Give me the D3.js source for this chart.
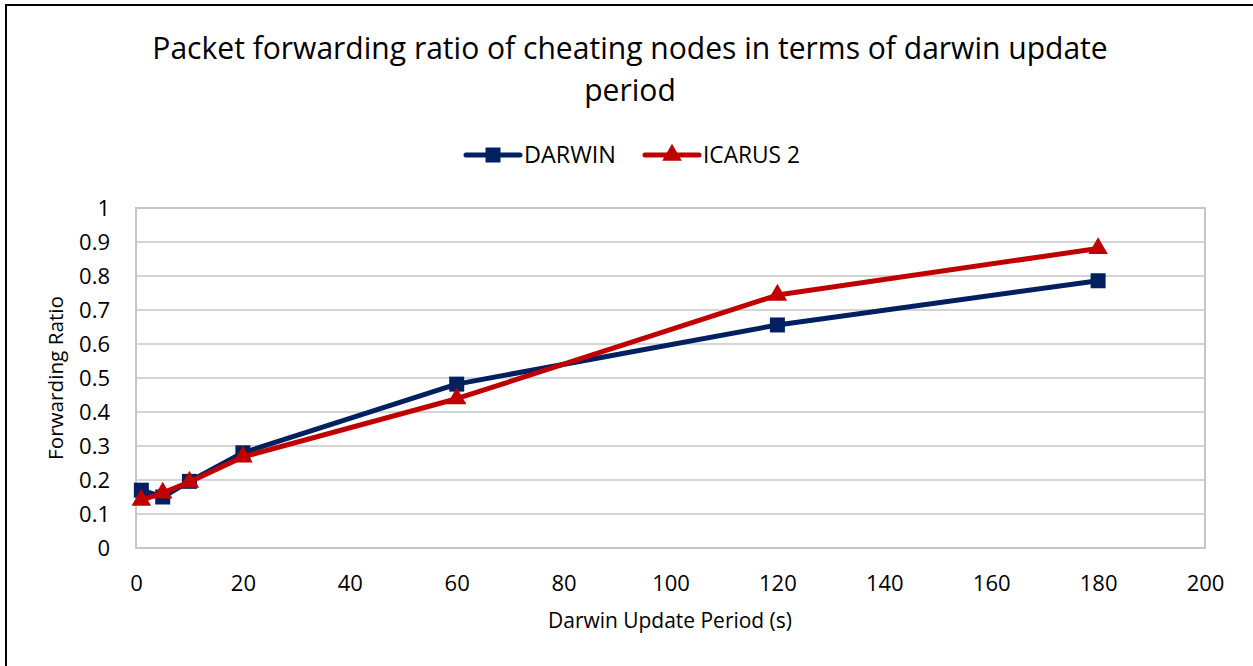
<!DOCTYPE html>
<html>
<head>
<meta charset="utf-8">
<script src="https://cdn.jsdelivr.net/npm/d3@7"></script>
<style>
  body { margin: 0; background: #fff; }
  text { font-family: "Open Sans", "Liberation Sans", sans-serif; fill: #000; }
</style>
</head>
<body>
<div id="content"></div>
<script>
// data
var periods = [1, 5, 10, 20, 60, 120, 180];
var darwin = [0.170, 0.150, 0.196, 0.280, 0.482, 0.656, 0.786];
var icarus = [0.141, 0.162, 0.194, 0.268, 0.439, 0.744, 0.881];
var seriesNames = ["DARWIN", "ICARUS 2"];
var xTicks = [0, 20, 40, 60, 80, 100, 120, 140, 160, 180, 200];
var yTicks = [0, 0.1, 0.2, 0.3, 0.4, 0.5, 0.6, 0.7, 0.8, 0.9, 1];

var W = 1253, H = 666;
var navy = "#002060", red = "#C00000", grid = "#C6C6C6";

var svg = d3.select("#content").append("svg").attr("width", W).attr("height", H);

// outer chart border (runs off the right / bottom edge)
svg.append("rect").attr("x", 6).attr("y", 5).attr("width", W + 10).attr("height", H + 10)
  .attr("fill", "#fff").attr("stroke", "#000").attr("stroke-width", 2);

var x = d3.scaleLinear().domain([0, 200]).range([136, 1205]);
var y = d3.scaleLinear().domain([0, 1]).range([548, 208]);

// helper: fit a text to a wanted width by tuning font size
function fit(t, width) {
  var fs = parseFloat(t.style("font-size"));
  var w = t.node().getComputedTextLength();
  t.style("font-size", (fs * width / w) + "px");
}

// title
var t1 = svg.append("text").attr("x", 630).attr("y", 59).attr("text-anchor", "middle")
  .style("font-size", "28px").text("Packet forwarding ratio of cheating nodes in terms of darwin update");
fit(t1, 956);
svg.append("text").attr("x", 630).attr("y", 101).attr("text-anchor", "middle")
  .style("font-size", t1.style("font-size")).text("period");

// grid
var g = svg.append("g");
g.selectAll("line.h").data(yTicks).enter().append("line")
  .attr("x1", x(0)).attr("x2", x(200))
  .attr("y1", function(d) { return y(d); }).attr("y2", function(d) { return y(d); })
  .attr("stroke", grid).attr("stroke-width", 1.5);
g.append("rect").attr("x", x(0)).attr("y", y(1)).attr("width", x(200) - x(0)).attr("height", y(0) - y(1))
  .attr("fill", "none").attr("stroke", grid).attr("stroke-width", 2);

// axes via d3 axis generators, domain and ticks hidden
var xAxis = svg.append("g").attr("transform", "translate(0," + y(0) + ")")
  .call(d3.axisBottom(x).tickValues(xTicks).tickSize(0).tickPadding(43).tickFormat(d3.format("d")));
var yAxis = svg.append("g").attr("transform", "translate(" + x(0) + ",0)")
  .call(d3.axisLeft(y).tickValues(yTicks).tickSize(0).tickPadding(26).tickFormat(function(d) { return d === 0 || d === 1 ? d : d3.format(".1f")(d); }));
[xAxis, yAxis].forEach(function(a) {
  a.select(".domain").remove();
  a.selectAll("text").style("font-size", "22px").attr("fill", "#000")
    .style("font-family", "'Open Sans', sans-serif");
});
xAxis.selectAll("text").attr("dy", "0");
yAxis.selectAll("text").attr("dy", "0.36em");

// axis titles
var xt = svg.append("text").attr("x", 670).attr("y", 628).attr("text-anchor", "middle")
  .style("font-size", "17px").text("Darwin Update Period (s)");
fit(xt, 244);
var yt = svg.append("text").attr("transform", "translate(63,378) rotate(-90)").attr("text-anchor", "middle")
  .style("font-size", "17px").text("Forwarding Ratio");
fit(yt, 164);

// series
var line = d3.line().x(function(d) { return x(d[0]); }).y(function(d) { return y(d[1]); });
var dDarwin = d3.zip(periods, darwin), dIcarus = d3.zip(periods, icarus);
var sq = d3.symbol().type(d3.symbolSquare).size(225);
var tri = d3.symbol().type(d3.symbolTriangle).size(165);

svg.append("path").datum(dDarwin).attr("d", line).attr("fill", "none")
  .attr("stroke", navy).attr("stroke-width", 5).attr("stroke-linejoin", "round");
svg.selectAll("path.sq").data(dDarwin).enter().append("path").attr("class", "sq")
  .attr("d", sq).attr("fill", navy)
  .attr("transform", function(d) { return "translate(" + x(d[0]) + "," + y(d[1]) + ")"; });

svg.append("path").datum(dIcarus).attr("d", line).attr("fill", "none")
  .attr("stroke", red).attr("stroke-width", 5).attr("stroke-linejoin", "round");
svg.selectAll("path.tri").data(dIcarus).enter().append("path").attr("class", "tri")
  .attr("d", tri).attr("fill", red)
  .attr("transform", function(d) { return "translate(" + x(d[0]) + "," + y(d[1]) + ")"; });

// legend
var legX = [466, 645];
var leg = svg.selectAll("g.leg").data(seriesNames).enter().append("g")
  .attr("transform", function(d, i) { return "translate(" + legX[i] + ",155)"; });
leg.append("line").attr("x1", 0).attr("x2", 54).attr("stroke-width", 5).attr("stroke-linecap", "round")
  .attr("stroke", function(d, i) { return i ? red : navy; });
leg.append("path").attr("transform", "translate(27,0)")
  .attr("d", function(d, i) { return i ? tri() : sq(); })
  .attr("fill", function(d, i) { return i ? red : navy; });
leg.append("text").attr("x", 58).attr("dy", "0.36em").style("font-size", "20px").text(function(d) { return d; })
  .each(function(d, i) { fit(d3.select(this), i ? 97 : 92); });
</script>
</body>
</html>
